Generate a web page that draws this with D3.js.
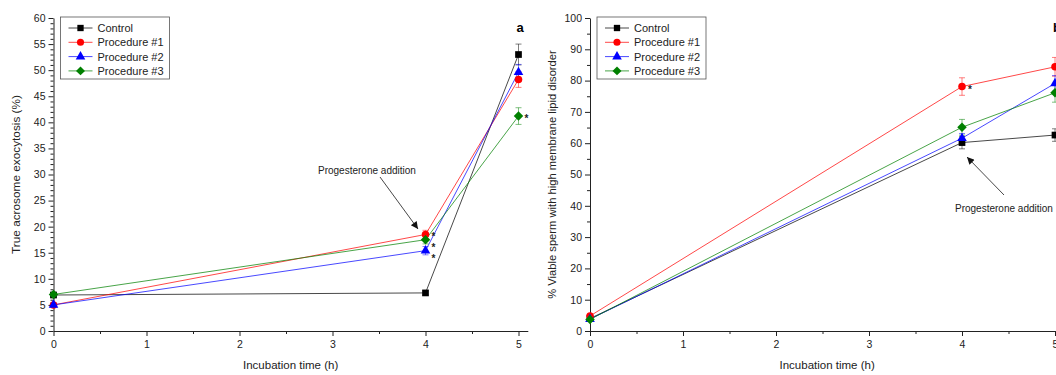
<!DOCTYPE html>
<html>
<head>
<meta charset="utf-8">
<script src="https://cdn.jsdelivr.net/npm/d3@7"></script>
<style>
  body { margin: 0; background: #fff; }
  svg { font-family: "Liberation Sans", Arial, sans-serif; }
  .axis text { font-size: 10.5px; fill: #222; }
  .axis path, .axis line { stroke: #222; }
</style>
</head>
<body>
<svg id="chart" width="1056" height="375"></svg>
<script>
// shared x values (incubation time, h)
const times = [0, 4, 5];
const seriesNames = ['Control', 'Procedure #1', 'Procedure #2', 'Procedure #3'];
const seriesColors = ['#000000', '#ff0000', '#0000ff', '#008000'];

// panel a: true acrosome exocytosis (%)
const exoControl = [6.9, 7.3, 53.0];
const exoProc1 = [5.0, 18.5, 48.2];
const exoProc2 = [5.0, 15.4, 49.6];
const exoProc3 = [7.0, 17.5, 41.2];
const exoErrControl = [0.4, 0.4, 2.0];
const exoErrProc1 = [0.4, 0.8, 1.5];
const exoErrProc2 = [0.4, 0.8, 1.5];
const exoErrProc3 = [0.4, 0.8, 1.6];
const exoStarsControl = [false, false, false];
const exoStarsProc1 = [false, true, false];
const exoStarsProc2 = [false, true, false];
const exoStarsProc3 = [false, true, true];

// panel b: viable sperm with high membrane lipid disorder (%)
const lipControl = [4.0, 60.2, 62.6];
const lipProc1 = [4.8, 78.1, 84.4];
const lipProc2 = [3.8, 61.6, 79.1];
const lipProc3 = [3.7, 65.1, 76.1];
const lipErrControl = [0.5, 2.0, 2.0];
const lipErrProc1 = [0.5, 2.8, 3.0];
const lipErrProc2 = [0.5, 1.5, 2.5];
const lipErrProc3 = [0.5, 2.5, 3.0];
const lipStarsControl = [false, false, false];
const lipStarsProc1 = [false, true, false];
const lipStarsProc2 = [false, false, false];
const lipStarsProc3 = [false, false, false];

const xTicks = [0, 1, 2, 3, 4, 5];
const xMinorTicks = [0.5, 1.5, 2.5, 3.5, 4.5];
const exoTicks = [0, 5, 10, 15, 20, 25, 30, 35, 40, 45, 50, 55, 60];
const lipTicks = [0, 10, 20, 30, 40, 50, 60, 70, 80, 90, 100];

const svg = d3.select('#chart');

// square rotated 45 degrees (Origin-style diamond)
const symbolRhomb = {
  draw(ctx, size) {
    const r = Math.sqrt(size / 2);
    ctx.moveTo(0, -r); ctx.lineTo(r, 0); ctx.lineTo(0, r); ctx.lineTo(-r, 0); ctx.closePath();
  }
};
const symbols = [d3.symbolSquare, d3.symbolCircle, d3.symbolTriangle, symbolRhomb];

function buildSeries(vals, errs, stars) {
  return seriesNames.map((name, i) => ({
    name, color: seriesColors[i], symbol: symbols[i],
    points: times.map((t, j) => ({ t, v: vals[i][j], e: errs[i][j], star: stars[i][j] }))
  }));
}

function drawPanel(opts) {
  const { left, top, bottom, yMax, yTicks, yMinorStep, series, yLabel, yLabelX, yLabelSize, letter, letterX, annot } = opts;
  const g = svg.append('g');
  const x = d3.scaleLinear().domain([0, 5.1]).range([left, left + 93 * 5.1]);
  const y = d3.scaleLinear().domain([0, yMax]).range([bottom, top]);

  // minor ticks
  const yMinor = d3.range(0, yMax + 0.001, yMinorStep).filter(v => !yTicks.includes(v));
  g.append('g').attr('class', 'axis')
    .attr('transform', `translate(${left},0)`)
    .call(d3.axisLeft(y).tickValues(yMinor).tickSize(3).tickFormat(''))
    .call(a => a.select('.domain').remove());
  g.append('g').attr('class', 'axis')
    .attr('transform', `translate(0,${bottom})`)
    .call(d3.axisBottom(x).tickValues(xMinorTicks).tickSize(3).tickFormat(''))
    .call(a => a.select('.domain').remove());

  // main axes
  g.append('g').attr('class', 'axis')
    .attr('transform', `translate(${left},0)`)
    .call(d3.axisLeft(y).tickValues(yTicks).tickSize(5).tickSizeOuter(0).tickPadding(3).tickFormat(d3.format('d')));
  g.append('g').attr('class', 'axis')
    .attr('transform', `translate(0,${bottom})`)
    .call(d3.axisBottom(x).tickValues(xTicks).tickSize(5).tickSizeOuter(0).tickPadding(5).tickFormat(d3.format('d')));

  // axis titles
  g.append('text')
    .attr('transform', `translate(${yLabelX},${(top + bottom) / 2}) rotate(-90)`)
    .attr('text-anchor', 'middle').attr('font-size', yLabelSize).attr('fill', '#222')
    .text(yLabel);
  g.append('text')
    .attr('x', (x(0) + x(5.1)) / 2).attr('y', 369)
    .attr('text-anchor', 'middle').attr('font-size', 11.5).attr('fill', '#222')
    .text('Incubation time (h)');

  const line = d3.line().x(d => x(d.t)).y(d => y(d.v));

  // lines
  g.selectAll('.series-line').data(series).enter().append('path')
    .attr('class', 'series-line')
    .attr('d', d => line(d.points))
    .attr('fill', 'none').attr('stroke', d => d.color)
    .attr('stroke-width', 0.9).attr('stroke-opacity', 0.8);

  // error bars
  series.forEach(s => {
    const eb = g.append('g').attr('stroke', s.color).attr('stroke-opacity', 0.5).attr('stroke-width', 1);
    s.points.forEach(p => {
      eb.append('line').attr('x1', x(p.t)).attr('x2', x(p.t)).attr('y1', y(p.v - p.e)).attr('y2', y(p.v + p.e));
      eb.append('line').attr('x1', x(p.t) - 3).attr('x2', x(p.t) + 3).attr('y1', y(p.v - p.e)).attr('y2', y(p.v - p.e));
      eb.append('line').attr('x1', x(p.t) - 3).attr('x2', x(p.t) + 3).attr('y1', y(p.v + p.e)).attr('y2', y(p.v + p.e));
    });
  });

  // markers
  series.forEach(s => {
    g.selectAll(null).data(s.points).enter().append('path')
      .attr('transform', p => `translate(${x(p.t)},${y(p.v)})`)
      .attr('d', d3.symbol().type(s.symbol).size(s.symbol === d3.symbolTriangle ? 40 : 45))
      .attr('fill', s.color);
  });

  // significance stars, pushed apart vertically when they crowd
  const starred = [];
  series.forEach(s => s.points.filter(p => p.star).forEach(p => starred.push({ t: p.t, sy: y(p.v) + 6 })));
  d3.groups(starred, d => d.t).forEach(([, grp]) => {
    grp.sort((a, b) => a.sy - b.sy);
    for (let i = 1; i < grp.length; i++) grp[i].sy = Math.max(grp[i].sy, grp[i - 1].sy + 11);
  });
  g.selectAll(null).data(starred).enter().append('text')
    .attr('x', d => x(d.t) + 6).attr('y', d => d.sy)
    .attr('font-size', 10).attr('font-weight', 'bold').attr('fill', '#222')
    .text('*');

  // panel letter
  g.append('text').attr('x', letterX).attr('y', 32)
    .attr('font-size', 13).attr('font-weight', 'bold').attr('text-anchor', 'middle')
    .text(letter);

  // annotation
  const defsId = 'arrow-' + letter;
  svg.append('defs').append('marker')
    .attr('id', defsId).attr('viewBox', '0 0 10 10').attr('refX', 10).attr('refY', 5)
    .attr('markerWidth', 10).attr('markerHeight', 8).attr('orient', 'auto-start-reverse')
    .append('path').attr('d', 'M0,0 L10,5 L0,10 z').attr('fill', '#111');
  g.append('line')
    .attr('x1', annot.x1).attr('y1', annot.y1).attr('x2', annot.x2).attr('y2', annot.y2)
    .attr('stroke', '#333').attr('stroke-width', 0.9)
    .attr('marker-end', `url(#${defsId})`);
  g.append('text').attr('x', annot.tx).attr('y', annot.ty)
    .attr('font-size', 10).attr('fill', '#222').text('Progesterone addition');

  // legend
  const lg = g.append('g').attr('transform', `translate(${left + 7},17)`);
  lg.append('rect').attr('width', 109).attr('height', 62)
    .attr('fill', '#fff').attr('stroke', '#555').attr('stroke-width', 0.8);
  series.forEach((s, i) => {
    const yy = 11 + i * 14.3;
    lg.append('line').attr('x1', 8).attr('x2', 32).attr('y1', yy).attr('y2', yy)
      .attr('stroke', s.color).attr('stroke-width', 0.9).attr('stroke-opacity', 0.8);
    lg.append('path').attr('transform', `translate(20,${yy})`)
      .attr('d', d3.symbol().type(s.symbol).size(40)).attr('fill', s.color);
    lg.append('text').attr('x', 37).attr('y', yy + 4)
      .attr('font-size', 11).attr('fill', '#222').text(s.name);
  });
}

const exoSeries = buildSeries(
  [exoControl, exoProc1, exoProc2, exoProc3],
  [exoErrControl, exoErrProc1, exoErrProc2, exoErrProc3],
  [exoStarsControl, exoStarsProc1, exoStarsProc2, exoStarsProc3]);
const lipSeries = buildSeries(
  [lipControl, lipProc1, lipProc2, lipProc3],
  [lipErrControl, lipErrProc1, lipErrProc2, lipErrProc3],
  [lipStarsControl, lipStarsProc1, lipStarsProc2, lipStarsProc3]);

drawPanel({
  left: 53.5, top: 18, bottom: 331, yMax: 60, yTicks: exoTicks, yMinorStep: 1,
  series: exoSeries, yLabel: 'True acrosome exocytosis (%)', yLabelX: 20, yLabelSize: 11.8,
  letter: 'a', letterX: 520,
  annot: { x1: 380, y1: 177, x2: 418, y2: 229, tx: 318, ty: 174 }
});
drawPanel({
  left: 590, top: 18, bottom: 331, yMax: 100, yTicks: lipTicks, yMinorStep: 5,
  series: lipSeries, yLabel: '% Viable sperm with high membrane lipid disorder', yLabelX: 556, yLabelSize: 11.2,
  letter: 'b', letterX: 1057,
  annot: { x1: 1004, y1: 195, x2: 967, y2: 157, tx: 955, ty: 212 }
});
</script>
</body>
</html>
